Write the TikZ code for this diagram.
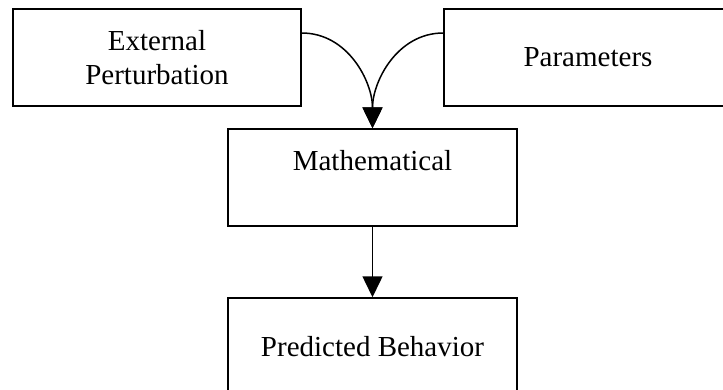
\documentclass[tikz,border=0pt]{standalone}
\usepackage{fontspec}
\setmainfont{Liberation Serif}
\usetikzlibrary{arrows.meta}

\begin{document}
\begin{tikzpicture}[x=1pt,y=-1pt,>/.tip={Triangle[length=21pt,width=20pt]},line width=1.5pt,
	font=\fontsize{29}{34}\selectfont]
	\useasboundingbox (0,0) rectangle (723,389);
	\clip (0,0) rectangle (723,389);
	\draw (157,57.5) node(ext) [draw,minimum width=288pt,minimum height=97pt,align=center] {External\\Perturbation};
	\draw (588,57.5) node(par) [draw,minimum width=288pt,minimum height=97pt] {Parameters};
	\draw (372.5,177.5) node(math) [draw,minimum width=289pt,minimum height=97pt,align=center] {Mathematical\\\phantom{M}};
	\draw (372.5,346.5) node(pred) [draw,minimum width=289pt,minimum height=97pt] {Predicted Behavior};
	\draw[->] ([yshift=24.5pt]ext.east) to [out=0,in=90] (math.north);
	\draw[->] ([yshift=24.5pt]par.west) to [out=180,in=90] (math.north);
	\draw[->] (math) -- (pred);
\end{tikzpicture}
\end{document}
